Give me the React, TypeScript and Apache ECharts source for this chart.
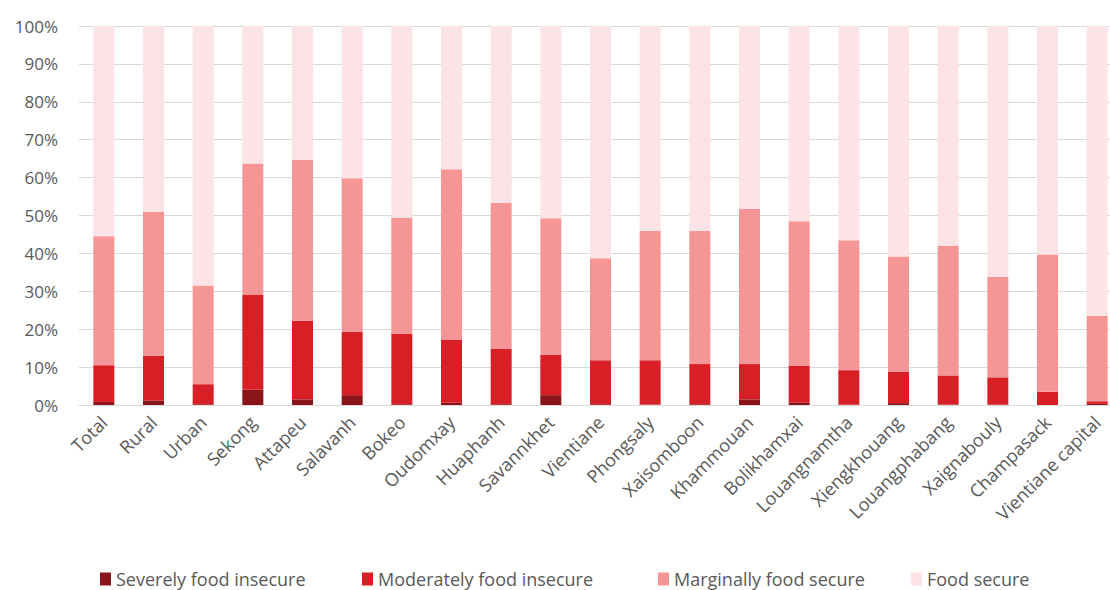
import React, { useEffect, useRef } from "react";
import * as echarts from "echarts";

const categories = [
  "Total", "Rural", "Urban", "Sekong", "Attapeu", "Salavanh", "Bokeo", "Oudomxay",
  "Huaphanh", "Savannkhet", "Vientiane", "Phongsaly", "Xaisomboon", "Khammouan",
  "Bolikhamxai", "Louangnamtha", "Xiengkhouang", "Louangphabang", "Xaignabouly",
  "Champasack", "Vientiane capital",
];

const severe = [0.8, 1.2, 0.2, 4.0, 1.5, 2.6, 0.2, 0.6, 0.2, 2.6, 0.2, 0.1, 0.2, 1.5, 0.7, 0.1, 0.5, 0.1, 0.1, 0.0, 0.3];
const moderate = [9.7, 11.8, 5.3, 25.0, 20.7, 16.7, 18.6, 16.7, 14.6, 10.7, 11.6, 11.7, 10.6, 9.3, 9.6, 9.1, 8.3, 7.7, 7.2, 3.5, 0.7];
const marginal = [34.0, 38.0, 26.0, 34.7, 42.5, 40.5, 30.7, 44.9, 38.5, 36.0, 26.9, 34.2, 35.2, 41.0, 38.2, 34.3, 30.4, 34.2, 26.5, 36.2, 22.5];
const secure = [55.5, 49.0, 68.5, 36.3, 35.3, 40.2, 50.5, 37.8, 46.7, 50.7, 61.3, 54.0, 54.0, 48.2, 51.5, 56.5, 60.8, 58.0, 66.2, 60.3, 76.5];

const seriesNames = ["Severely food insecure", "Moderately food insecure", "Marginally food secure", "Food secure"];
const seriesValues = [severe, moderate, marginal, secure];
const colors = ["#8a1519", "#d91f26", "#f59596", "#fce3e5"];
const legendLefts = [100, 362, 658, 911];

export default function App() {
  const ref = useRef<HTMLDivElement>(null);
  useEffect(() => {
    if (!ref.current) return;
    const chart = echarts.init(ref.current, null, { renderer: "svg" });
    const font = "'Open Sans', sans-serif";
    chart.setOption({
      animation: false,
      textStyle: { fontFamily: font },
      grid: { left: 79, right: 0, top: 26, bottom: 185, containLabel: false },
      legend: seriesNames.map((n, i) => ({
        data: [n],
        left: legendLefts[i],
        top: 570,
        icon: "rect",
        itemWidth: 11,
        itemHeight: 13,
        itemGap: 7,
        padding: 0,
        textStyle: { fontSize: 18, color: "#595959", fontFamily: font },
      })),
      xAxis: {
        type: "category",
        data: categories,
        axisLine: { lineStyle: { color: "#d9d9d9" } },
        axisTick: { show: false },
        axisLabel: { rotate: 45, fontSize: 18, color: "#595959", margin: 14, interval: 0, fontFamily: font },
      },
      yAxis: {
        type: "value",
        min: 0,
        max: 100,
        interval: 10,
        axisLabel: { formatter: "{value}%", fontSize: 17, color: "#595959", margin: 21, fontFamily: font },
        splitLine: { lineStyle: { color: "#d9d9d9" } },
        axisLine: { show: false },
        axisTick: { show: false },
      },
      series: seriesNames.map((n, i) => ({
        name: n,
        type: "bar",
        stack: "total",
        barWidth: 21,
        data: seriesValues[i],
        itemStyle: { color: colors[i] },
      })),
    });
    return () => chart.dispose();
  }, []);
  return (
    <div
      ref={ref}
      style={{ position: "fixed", left: 0, top: 0, width: 1122, height: 590, background: "#fff" }}
    />
  );
}
